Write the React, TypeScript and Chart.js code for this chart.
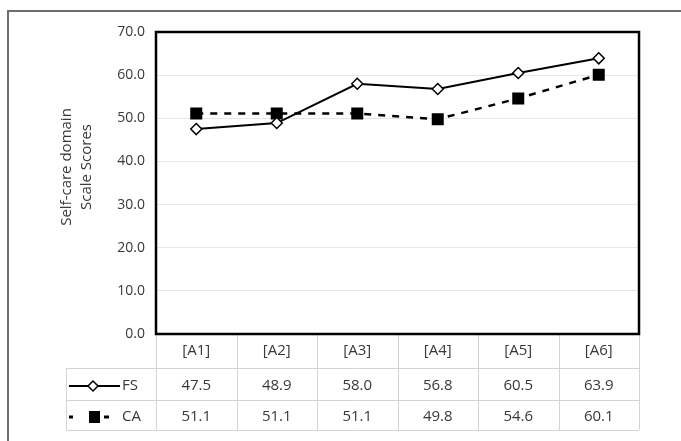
import React, { useEffect, useRef } from "react";
import { Chart, registerables } from "chart.js";

Chart.register(...registerables);

const categories = ["[A1]", "[A2]", "[A3]", "[A4]", "[A5]", "[A6]"];
const fsValues = [47.5, 48.9, 58.0, 56.8, 60.5, 63.9];
const caValues = [51.1, 51.1, 51.1, 49.8, 54.6, 60.1];
const seriesNames = ["FS", "CA"];
const yTitleLines = ["Self-care domain", "Scale Scores"];

const FONT = "'Open Sans', sans-serif";
const TEXT = "#383838";

const tablePlugin = {
  id: "tablePlugin",
  beforeDraw(chart: any) {
    const ctx = chart.ctx;
    ctx.save();
    ctx.fillStyle = "#ffffff";
    ctx.fillRect(0, 0, chart.width, chart.height);
    ctx.strokeStyle = "#6e6e6e";
    ctx.lineWidth = 2;
    ctx.beginPath();
    ctx.moveTo(8, chart.height);
    ctx.lineTo(8, 11);
    ctx.lineTo(chart.width, 11);
    ctx.stroke();
    ctx.restore();
  },
  afterDraw(chart: any) {
    const ctx = chart.ctx;
    const area = chart.chartArea;
    const x = chart.scales.x;
    const n = categories.length;
    const step = (area.right - area.left) / n;
    const tableTop = 368;
    const rowMid = 400;
    const tableBottom = 430;
    const tableLeft = 66;
    ctx.save();
    ctx.strokeStyle = "#d4d4d4";
    ctx.lineWidth = 1;
    ctx.beginPath();
    for (let i = 0; i <= n; i++) {
      const bx = Math.round(area.left + i * step) + 0.5;
      ctx.moveTo(bx, area.bottom);
      ctx.lineTo(bx, tableBottom);
    }
    ctx.moveTo(tableLeft + 0.5, tableTop);
    ctx.lineTo(tableLeft + 0.5, tableBottom);
    [tableTop, rowMid, tableBottom].forEach((yy) => {
      ctx.moveTo(tableLeft, yy + 0.5);
      ctx.lineTo(area.right, yy + 0.5);
    });
    ctx.stroke();

    ctx.fillStyle = TEXT;
    ctx.font = "15px " + FONT;
    ctx.textAlign = "center";
    ctx.textBaseline = "middle";
    const rowsY = [(tableTop + rowMid) / 2 + 2, (rowMid + tableBottom) / 2 + 2];
    const rows = [fsValues, caValues];
    rows.forEach((vals, r) => {
      vals.forEach((v, i) => {
        ctx.fillText(v.toFixed(1), x.getPixelForValue(i), rowsY[r]);
      });
    });

    ctx.textAlign = "left";
    seriesNames.forEach((nm, r) => {
      ctx.fillText(nm, 122, rowsY[r]);
    });

    ctx.strokeStyle = "#000";
    ctx.lineWidth = 2;
    ctx.beginPath();
    ctx.moveTo(69, rowsY[0]);
    ctx.lineTo(120, rowsY[0]);
    ctx.stroke();
    ctx.fillStyle = "#fff";
    ctx.lineWidth = 1.5;
    ctx.beginPath();
    const dx = 93, dy = rowsY[0], dr = 5;
    ctx.moveTo(dx, dy - dr);
    ctx.lineTo(dx + dr, dy);
    ctx.lineTo(dx, dy + dr);
    ctx.lineTo(dx - dr, dy);
    ctx.closePath();
    ctx.fill();
    ctx.stroke();

    ctx.fillStyle = "#000";
    ctx.fillRect(69, rowsY[1] - 1.5, 4, 3);
    ctx.fillRect(89, rowsY[1] - 6, 11, 12);
    ctx.fillRect(104, rowsY[1] - 1.5, 5, 3);

    ctx.strokeStyle = "#000";
    ctx.lineWidth = 2.5;
    ctx.strokeRect(area.left, area.top, area.right - area.left, area.bottom - area.top);

    ctx.fillStyle = TEXT;
    ctx.font = "15px " + FONT;
    ctx.textAlign = "center";
    ctx.textBaseline = "middle";
    ctx.translate(77, 167);
    ctx.rotate(-Math.PI / 2);
    ctx.fillText(yTitleLines[0], 0, -10);
    ctx.fillText(yTitleLines[1], 0, 10);
    ctx.restore();
  },
};

export default function App() {
  const ref = useRef<HTMLCanvasElement | null>(null);
  useEffect(() => {
    if (!ref.current) return;
    const chart = new Chart(ref.current, {
      type: "line",
      data: {
        labels: categories,
        datasets: [
          {
            label: seriesNames[0],
            data: fsValues,
            borderColor: "#000",
            borderWidth: 2,
            pointStyle: "rectRot",
            pointRadius: 5.5,
            pointBackgroundColor: "#fff",
            pointBorderColor: "#000",
            pointBorderWidth: 1.5,
            tension: 0,
            order: 1,
          },
          {
            label: seriesNames[1],
            data: caValues,
            borderColor: "#000",
            borderWidth: 2.5,
            borderDash: [7, 7],
            pointStyle: "rect",
            pointRadius: 8.5,
            pointBackgroundColor: "#000",
            pointBorderColor: "#000",
            pointBorderWidth: 0,
            tension: 0,
            order: 2,
          },
        ],
      },
      options: {
        animation: false,
        responsive: true,
        maintainAspectRatio: false,
        layout: { padding: { left: 0, right: 42, top: 32, bottom: 0 } },
        plugins: { legend: { display: false }, tooltip: { enabled: false } },
        scales: {
          x: {
            offset: true,
            grid: { display: false, drawTicks: false },
            border: { display: false },
            ticks: {
              padding: 8,
              color: TEXT,
              font: { size: 15, family: FONT },
            },
            afterFit(scale: any) {
              scale.height = 107;
            },
          },
          y: {
            min: 0,
            max: 70,
            grid: { color: "#e6e6e6", lineWidth: 1, drawTicks: false },
            border: { display: false },
            ticks: {
              stepSize: 10,
              padding: 11,
              color: TEXT,
              font: { size: 14, family: FONT },
              callback: (v: any) => Number(v).toFixed(1),
            },
            afterFit(scale: any) {
              scale.width = 156;
            },
          },
        },
      },
      plugins: [tablePlugin],
    });
    return () => chart.destroy();
  }, []);
  return (
    <div style={{ position: "fixed", left: 0, top: 0, width: 681, height: 441 }}>
      <canvas ref={ref} />
    </div>
  );
}
